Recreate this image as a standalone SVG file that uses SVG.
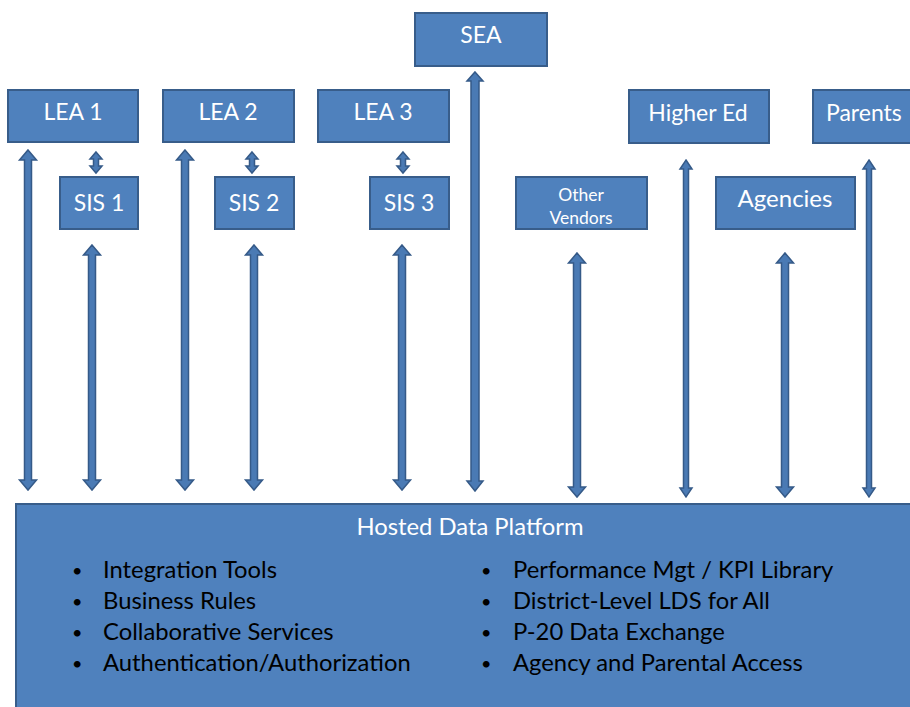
<svg xmlns="http://www.w3.org/2000/svg" width="910" height="707" viewBox="0 0 910 707">
<style>
.box{fill:#4F81BD;stroke:#385D8A;stroke-width:2}
.lbl{font-family:Lato,"Liberation Sans",sans-serif;fill:#fff;text-anchor:middle;font-size:23px}
.arr{fill:#4A7AB4;stroke:#355A88;stroke-width:1.5;stroke-linejoin:miter}
.item{font-family:Lato,"Liberation Sans",sans-serif;fill:#000;font-size:23.8px}
.bul{font-size:18px}
</style>
<rect width="910" height="707" fill="#fff"/>
<g id="connectors">
<polygon class="arr" points="28,150 36.5,160 31.5,160 31.5,480 36.5,480 28,490 19.5,480 24.5,480 24.5,160 19.5,160"/>
<polygon class="arr" points="92,245 100.5,255 95.5,255 95.5,480 100.5,480 92,490 83.5,480 88.5,480 88.5,255 83.5,255"/>
<polygon class="arr" points="185,150 193.5,160 188.5,160 188.5,480 193.5,480 185,490 176.5,480 181.5,480 181.5,160 176.5,160"/>
<polygon class="arr" points="254,245 262.5,255 257.5,255 257.5,480 262.5,480 254,490 245.5,480 250.5,480 250.5,255 245.5,255"/>
<polygon class="arr" points="402,245 410.5,255 405.5,255 405.5,480 410.5,480 402,490 393.5,480 398.5,480 398.5,255 393.5,255"/>
<polygon class="arr" points="475,72 483,81 479,81 479,481 483,481 475,491 467,481 471,481 471,81 467,81"/>
<polygon class="arr" points="577,253 585.5,263 580.5,263 580.5,487 585.5,487 577,497 568.5,487 573.5,487 573.5,263 568.5,263"/>
<polygon class="arr" points="686,160 692,169 688.5,169 688.5,488 692,488 686,497 680,488 683.5,488 683.5,169 680,169"/>
<polygon class="arr" points="785,253 793.5,263 788.5,263 788.5,487 793.5,487 785,497 776.5,487 781.5,487 781.5,263 776.5,263"/>
<polygon class="arr" points="869,160 875,169 871.5,169 871.5,488 875,488 869,497 863,488 866.5,488 866.5,169 863,169"/>
<polygon class="arr" points="96,152 102,159 98.5,159 98.5,166 102,166 96,173 90,166 93.5,166 93.5,159 90,159"/>
<polygon class="arr" points="252,152 258,159 254.5,159 254.5,166 258,166 252,173 246,166 249.5,166 249.5,159 246,159"/>
<polygon class="arr" points="403,152 409,159 405.5,159 405.5,166 409,166 403,173 397,166 400.5,166 400.5,159 397,159"/>
</g>
<g id="sea"><rect class="box" x="415" y="13" width="132" height="53"/><text class="lbl" x="481" y="43">SEA</text></g>
<g id="lea1"><rect class="box" x="8" y="90" width="130" height="52"/><text class="lbl" x="73" y="120">LEA 1</text></g>
<g id="lea2"><rect class="box" x="163" y="90" width="131" height="52"/><text class="lbl" x="228" y="120">LEA 2</text></g>
<g id="lea3"><rect class="box" x="318" y="90" width="131" height="52"/><text class="lbl" x="383" y="120">LEA 3</text></g>
<g id="sis1"><rect class="box" x="60" y="177" width="78" height="52"/><text class="lbl" x="99" y="211">SIS 1</text></g>
<g id="sis2"><rect class="box" x="215" y="177" width="79" height="52"/><text class="lbl" x="254" y="211">SIS 2</text></g>
<g id="sis3"><rect class="box" x="370" y="177" width="79" height="52"/><text class="lbl" x="409" y="211">SIS 3</text></g>
<g id="vendors"><rect class="box" x="516" y="177" width="131" height="52"/><text class="lbl" x="581" y="201" style="font-size:17.5px">Other</text><text class="lbl" x="581" y="224" style="font-size:17.5px">Vendors</text></g>
<g id="highered"><rect class="box" x="629" y="90" width="140" height="53"/><text class="lbl" x="698" y="121">Higher Ed</text></g>
<g id="agencies"><rect class="box" x="716" y="177" width="139" height="52"/><text class="lbl" x="785" y="207" style="font-size:24px">Agencies</text></g>
<g id="parents"><rect class="box" x="813" y="90" width="110" height="53"/><text class="lbl" x="826" y="121" style="text-anchor:start">Parents</text></g>
<g id="platform">
<rect class="box" x="16" y="504" width="910" height="220"/>
<text class="lbl" x="470" y="535" style="font-size:23.8px">Hosted Data Platform</text>
<g class="item">
<text class="bul" x="72" y="577">•</text><text x="103" y="578">Integration Tools</text>
<text class="bul" x="72" y="608">•</text><text x="103" y="609">Business Rules</text>
<text class="bul" x="72" y="639">•</text><text x="103" y="640">Collaborative Services</text>
<text class="bul" x="72" y="670">•</text><text x="103" y="671">Authentication/Authorization</text>
<text class="bul" x="481" y="577">•</text><text x="513" y="578">Performance Mgt / KPI Library</text>
<text class="bul" x="481" y="608">•</text><text x="513" y="609">District-Level LDS for All</text>
<text class="bul" x="481" y="639">•</text><text x="513" y="640">P-20 Data Exchange</text>
<text class="bul" x="481" y="670">•</text><text x="513" y="671">Agency and Parental Access</text>
</g>
</g>
</svg>
